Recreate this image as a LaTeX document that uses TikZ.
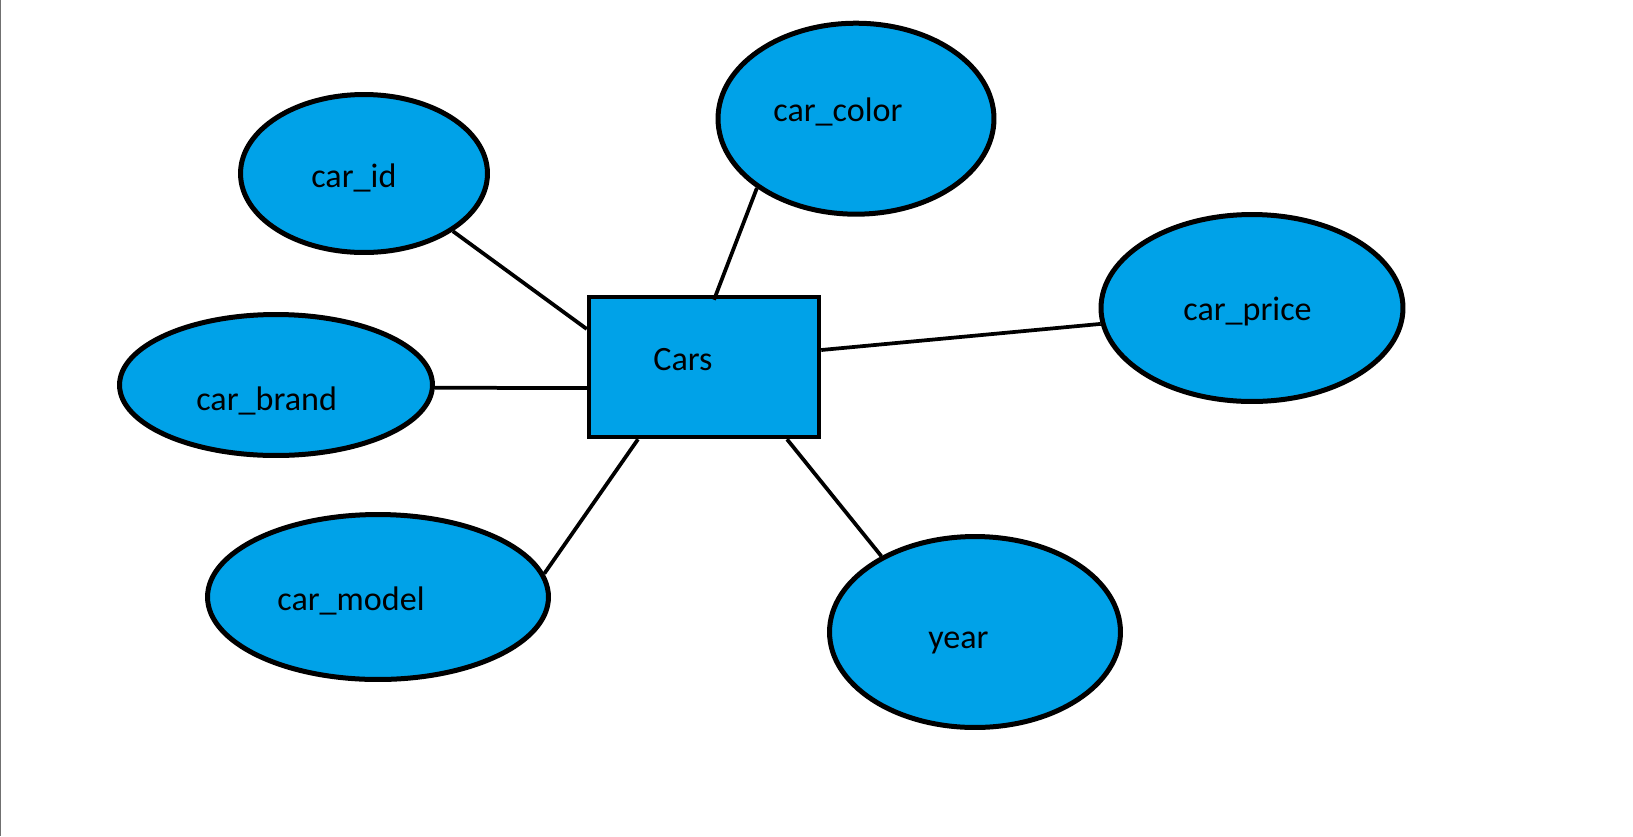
\documentclass[tikz,border=0pt]{standalone}
\usepackage{fontspec}
\setmainfont{Carlito}
\usetikzlibrary{shapes.geometric,calc}
\definecolor{paintblue}{HTML}{00A2E8}
\definecolor{edgegray}{HTML}{707070}
\begin{document}
\begin{tikzpicture}[x=0.02cm,y=-0.02cm,
		attr/.style = {ellipse, draw = black, fill = paintblue, line width = 0.1cm, inner sep = 0pt},
		entity/.style = {rectangle, draw = black, fill = paintblue, line width = 0.09cm, minimum width = 4.6cm, minimum height = 2.8cm, inner sep = 0pt},
		word/.style = {anchor = base west, inner sep = 0pt, font = \fontsize{19.4}{23}\selectfont},
		link/.style = {line width = 0.075cm}]
			\useasboundingbox (0,0) rectangle (1633,836);
			\draw[edgegray, line width = 0.03cm] (0.5,0) -- (0.5,836);
			
			\node[entity] (cars) at (704,367) {};
			
			\node[attr, minimum width = 4.94cm, minimum height = 3.16cm] (id) at (364,173.5) {};
			\node[attr, minimum width = 5.52cm, minimum height = 3.82cm] (color) at (856,118.7) {};
			\node[attr, minimum width = 6.04cm, minimum height = 3.74cm] (price) at (1252,308) {};
			\node[attr, minimum width = 6.26cm, minimum height = 2.82cm] (brand) at (276,385) {};
			\node[attr, minimum width = 6.82cm, minimum height = 3.30cm] (model) at (378,597) {};
			\node[attr, minimum width = 5.82cm, minimum height = 3.82cm] (year) at (975,632) {};
			
			\node[word] (cars text) at (653,370) {Cars};
			\node[word] (id text) at (311,187) {car\_id};
			\node[word] (color text) at (773,121.5) {car\_color};
			\node[word] (price text) at (1183,320) {car\_price};
			\node[word] (brand text) at (196,410) {car\_brand};
			\node[word] (model text) at (277,610) {car\_model};
			\node[word] (year text) at (928,648) {year};
			
			\draw[link] (id.-33) -- ($(cars.west)+(0,-38)$);
			\draw[link] (color.215) -- ($(cars.north)+(10,5)$);
			\draw[link] (price.186) -- ($(cars.east)+(0,-17)$);
			\draw[link] (brand.-1) -- ($(cars.west)+(0,21)$);
			\draw[link] (model.8) -- ($(cars.south)+(-66,0)$);
			\draw[link] (year.141) -- ($(cars.south)+(83,0)$);
		\end{tikzpicture}
\end{document}
